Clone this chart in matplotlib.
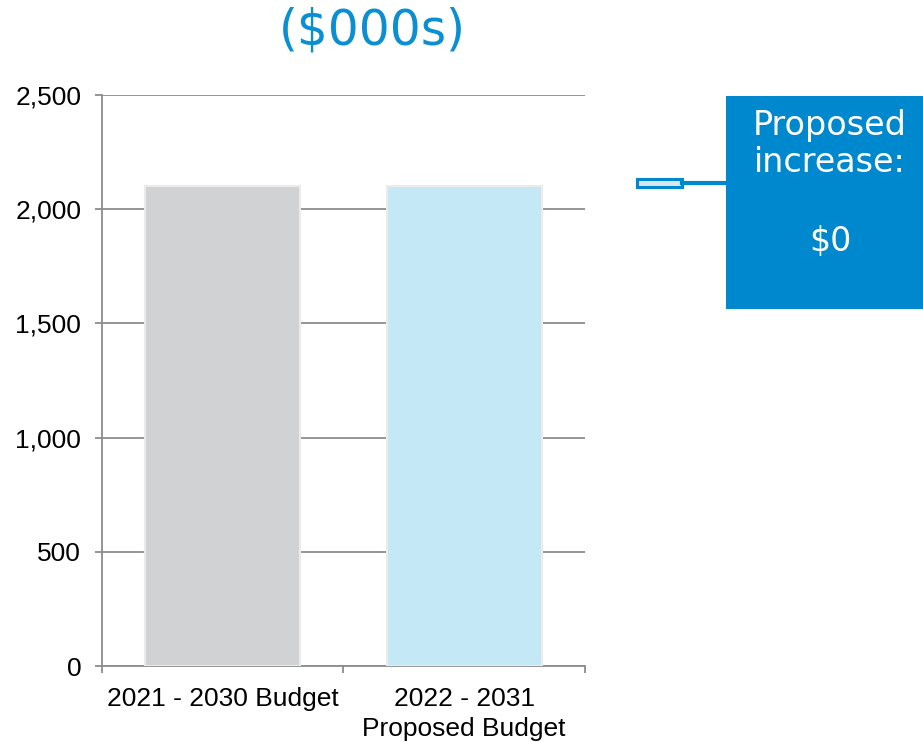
import matplotlib
matplotlib.use('Agg')
import matplotlib.pyplot as plt
from matplotlib.patches import Rectangle

categories = ["2021 - 2030 Budget", "2022 - 2031\nProposed Budget"]
values = [2100, 2100]
bar_colors = ["#D1D2D4", "#C5E8F7"]
y_ticks = [0, 500, 1000, 1500, 2000, 2500]
y_labels = ["0", "500", "1,000", "1,500", "2,000", "2,500"]
box_lines = ["Proposed", "increase:", "$0"]

plt.rcParams['font.family'] = ['Liberation Sans', 'DejaVu Sans']

fig = plt.figure(figsize=(9.23, 7.42), dpi=100)
ax = fig.add_axes([0.1105, 0.1024, 0.5233, 0.7695])

xs = [0.5, 1.5]
ax.bar(xs, values, width=0.64, color=bar_colors, zorder=3,
       edgecolor="#EBEBEB", linewidth=1.5)

ax.set_xlim(0, 2)
ax.set_ylim(0, 2500)
ax.set_yticks(y_ticks)
ax.set_yticklabels(y_labels, fontsize=19)
ax.yaxis.grid(True, color="#8C8C8C", linewidth=1.3, zorder=0)

# category boundaries as major ticks, labels at the centers
ax.set_xticks([0, 1, 2])
ax.set_xticklabels([])
ax.set_xticks(xs, minor=True)
ax.set_xticklabels(categories, minor=True, fontsize=19, linespacing=1.3)
ax.tick_params(axis='x', which='minor', length=0, pad=15)
ax.tick_params(axis='x', which='major', length=5, color="#8C8C8C", width=1.3)
ax.tick_params(axis='y', length=5, color="#8C8C8C", width=1.3, pad=10)

for s in ["top", "right"]:
    ax.spines[s].set_visible(False)
for s in ["left", "bottom"]:
    ax.spines[s].set_color("#8C8C8C")
    ax.spines[s].set_linewidth(1.3)

fig.text(372 / 923, 1 - 31 / 742, "($000s)", ha="center", va="center",
         fontsize=35, color="#0A8FD2", family=["DejaVu Sans"])

# callout box
blue = "#0088CE"
fig.patches.append(Rectangle((726 / 923, 1 - 309 / 742), 200 / 923, 213 / 742,
                             transform=fig.transFigure, facecolor=blue,
                             edgecolor="none"))
for txt, yp in zip(box_lines, [126, 162, 242]):
    fig.text(830 / 923, 1 - yp / 742, txt, ha="center", va="center",
             fontsize=24, color="white", family=["DejaVu Sans"])

# connector
fig.patches.append(Rectangle((637 / 923, 1 - 187 / 742), 45 / 923, 8 / 742,
                             transform=fig.transFigure, facecolor="#D9E6EE",
                             edgecolor=blue, linewidth=2.2))
fig.lines.append(plt.Line2D([682 / 923, 728 / 923], [1 - 183 / 742, 1 - 183 / 742],
                            transform=fig.transFigure, color=blue, linewidth=3))

fig.savefig("out.png", dpi=100)
